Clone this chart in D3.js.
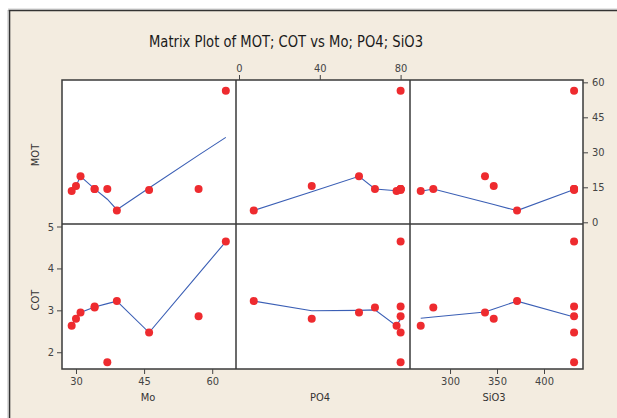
<!DOCTYPE html>
<html>
<head>
<meta charset="utf-8">
<script src="https://cdn.jsdelivr.net/npm/d3@7"></script>
<style>
  html, body { margin: 0; padding: 0; background: #ffffff; }
  svg { display: block; }
  text { font-family: "Liberation Sans Narrow", "DejaVu Sans Condensed", Lato, sans-serif; }
</style>
</head>
<body>
<svg id="chart" width="617" height="418"></svg>
<script>
// ---------------- data ----------------
const mo   = [29.05, 30, 31, 34.1, 34.1, 36.9, 39, 46.1, 57, 63];
const po4  = [78, 36, 59.4, 67.3, 80, 80, 7.3, 80, 80, 80];
const sio3 = [268.8, 346.5, 337.2, 282.2, 432, 432, 371.3, 432, 432, 432];
const mot  = [13.4, 15.6, 19.7, 14.3, 14.3, 14.3, 5.1, 13.8, 14.3, 56.4];
const cot  = [2.63, 2.80, 2.95, 3.07, 3.09, 1.76, 3.22, 2.47, 2.86, 4.64];

// lowess smoother vertices as drawn in the reference
const smoothMoX    = [29.05, 30, 31, 34.1, 36.9, 39, 46.1, 57, 63];
const smoothMotMo  = [13.4, 15.6, 19.7, 14.3, 9.9, 5.4, 14.7, 28.8, 36.4];
const smoothCotMo  = [2.63, 2.80, 2.95, 3.08, 3.16, 3.22, 2.47, 3.87, 4.64];
const smoothPo4X   = [7.3, 36, 59.4, 67.3, 78, 80];
const smoothMotPo4 = [5.1, 13.1, 19.7, 14.3, 13.5, 14.1];
const smoothCotPo4 = [3.22, 2.99, 3.0, 3.01, 2.63, 2.80];
const smoothSio3X  = [268.8, 282.2, 337.2, 346.5, 371.3, 432];
const smoothMotSio3= [13.3, 14.3, 8.56, 7.59, 5.0, 14.1];
const smoothCotSio3= [2.81, 2.84, 2.96, 3.03, 3.22, 2.84];

const moTicks = [30, 45, 60];
const po4Ticks = [0, 40, 80];
const sio3Ticks = [300, 350, 400];
const motTicks = [0, 15, 30, 45, 60];
const cotTicks = [2, 3, 4, 5];

const title = "Matrix Plot of MOT; COT vs Mo; PO4; SiO3";

// ---------------- layout ----------------
const svg = d3.select("#chart");
const W = 617, H = 418;
const colX = [62, 236, 410, 583];
const rowY = [80, 224, 369];

svg.append("rect").attr("x", 0).attr("y", 0).attr("width", W).attr("height", H).attr("fill", "#ffffff");
svg.append("rect").attr("x", 9).attr("y", 10).attr("width", W - 9).attr("height", H - 10).attr("fill", "#f3ece0");
svg.append("line").attr("x1", 8).attr("x2", W).attr("y1", 9).attr("y2", 9).attr("stroke", "#cfcfcf").attr("stroke-width", 1);
svg.append("line").attr("x1", 8.5).attr("x2", W).attr("y1", 10.5).attr("y2", 10.5).attr("stroke", "#333").attr("stroke-width", 1.6);
svg.append("line").attr("x1", 9.5).attr("x2", 9.5).attr("y1", 10).attr("y2", H).attr("stroke", "#333").attr("stroke-width", 1.6);
svg.append("line").attr("x1", 8).attr("x2", 8).attr("y1", 10).attr("y2", H).attr("stroke", "#bbb").attr("stroke-width", 1);

svg.append("text").attr("x", 286).attr("y", 47).attr("text-anchor", "middle")
  .attr("font-size", 15).attr("fill", "#1a1a1a")
  .attr("textLength", 274).attr("lengthAdjust", "spacingAndGlyphs").text(title);

// scales
const xMo   = d3.scaleLinear().domain([26.92, 65.24]).range([colX[0], colX[1]]);
const xPo4  = d3.scaleLinear().domain([-1.49, 84.65]).range([colX[1], colX[2]]);
const xSio3 = d3.scaleLinear().domain([257.4, 441.5]).range([colX[2], colX[3]]);
const yMot  = d3.scaleLinear().domain([-0.73, 61.0]).range([rowY[1], rowY[0]]);
const yCot  = d3.scaleLinear().domain([1.60, 5.06]).range([rowY[2], rowY[1]]);

const xs = [
  {scale: xMo, vals: mo, sx: smoothMoX, c: 0},
  {scale: xPo4, vals: po4, sx: smoothPo4X, c: 1},
  {scale: xSio3, vals: sio3, sx: smoothSio3X, c: 2}
];
const ys = [
  {scale: yMot, vals: mot, smooth: [smoothMotMo, smoothMotPo4, smoothMotSio3], r: 0},
  {scale: yCot, vals: cot, smooth: [smoothCotMo, smoothCotPo4, smoothCotSio3], r: 1}
];

// panels
ys.forEach(yv => {
  xs.forEach(xv => {
    const x0 = colX[xv.c], x1 = colX[xv.c + 1], y0 = rowY[yv.r], y1 = rowY[yv.r + 1];
    const g = svg.append("g");
    g.append("rect").attr("x", x0).attr("y", y0).attr("width", x1 - x0).attr("height", y1 - y0)
      .attr("fill", "#ffffff");
    const sy = yv.smooth[xv.c];
    const line = d3.line().x(d => xv.scale(d[0])).y(d => yv.scale(d[1]));
    g.append("path").attr("d", line(xv.sx.map((v, i) => [v, sy[i]])))
      .attr("fill", "none").attr("stroke", "#3b5fb5").attr("stroke-width", 1.1);
    g.selectAll("circle").data(xv.vals.map((v, i) => [v, yv.vals[i]])).join("circle")
      .attr("cx", d => xv.scale(d[0])).attr("cy", d => yv.scale(d[1])).attr("r", 4)
      .attr("fill", "#ee2b2f");
  });
});

// panel grid lines (borders)
const border = svg.append("g").attr("stroke", "#3a3a3a").attr("stroke-width", 1.5).attr("fill", "none");
border.append("rect").attr("x", colX[0]).attr("y", rowY[0]).attr("width", colX[3] - colX[0]).attr("height", rowY[2] - rowY[0]);
border.append("line").attr("x1", colX[1]).attr("x2", colX[1]).attr("y1", rowY[0]).attr("y2", rowY[2]);
border.append("line").attr("x1", colX[2]).attr("x2", colX[2]).attr("y1", rowY[0]).attr("y2", rowY[2]);
border.append("line").attr("x1", colX[0]).attr("x2", colX[3]).attr("y1", rowY[1]).attr("y2", rowY[1]);

// axes
function styleAxis(g) {
  g.select(".domain").remove();
  g.selectAll(".tick line").attr("stroke", "#444").attr("stroke-width", 1);
  g.selectAll(".tick text").attr("fill", "#444").attr("font-size", 11)
    .attr("font-family", "\"Liberation Sans Narrow\", \"DejaVu Sans Condensed\", Lato, sans-serif");
}
const fmt = d3.format("d");
svg.append("g").attr("transform", `translate(0,${rowY[2]})`)
  .call(d3.axisBottom(xMo).tickValues(moTicks).tickFormat(fmt).tickSize(5).tickPadding(3)).call(styleAxis);
svg.append("g").attr("transform", `translate(0,${rowY[2]})`)
  .call(d3.axisBottom(xSio3).tickValues(sio3Ticks).tickFormat(fmt).tickSize(5).tickPadding(3)).call(styleAxis);
svg.append("g").attr("transform", `translate(0,${rowY[0]})`)
  .call(d3.axisTop(xPo4).tickValues(po4Ticks).tickFormat(fmt).tickSize(5).tickPadding(3)).call(styleAxis);
svg.append("g").attr("transform", `translate(${colX[3]},0)`)
  .call(d3.axisRight(yMot).tickValues(motTicks).tickFormat(fmt).tickSize(5).tickPadding(4)).call(styleAxis);
svg.append("g").attr("transform", `translate(${colX[0]},0)`)
  .call(d3.axisLeft(yCot).tickValues(cotTicks).tickFormat(fmt).tickSize(5).tickPadding(3)).call(styleAxis);

// variable labels
const lab = svg.append("g").attr("fill", "#333").attr("font-size", 11);
lab.append("text").attr("x", 148).attr("y", 401).attr("text-anchor", "middle").text("Mo");
lab.append("text").attr("x", 320).attr("y", 401).attr("text-anchor", "middle").text("PO4");
lab.append("text").attr("x", 494).attr("y", 401).attr("text-anchor", "middle").text("SiO3");
lab.append("text").attr("transform", "translate(39,155) rotate(-90)").attr("text-anchor", "middle").text("MOT");
lab.append("text").attr("transform", "translate(39,300) rotate(-90)").attr("text-anchor", "middle").text("COT");
</script>
</body>
</html>
